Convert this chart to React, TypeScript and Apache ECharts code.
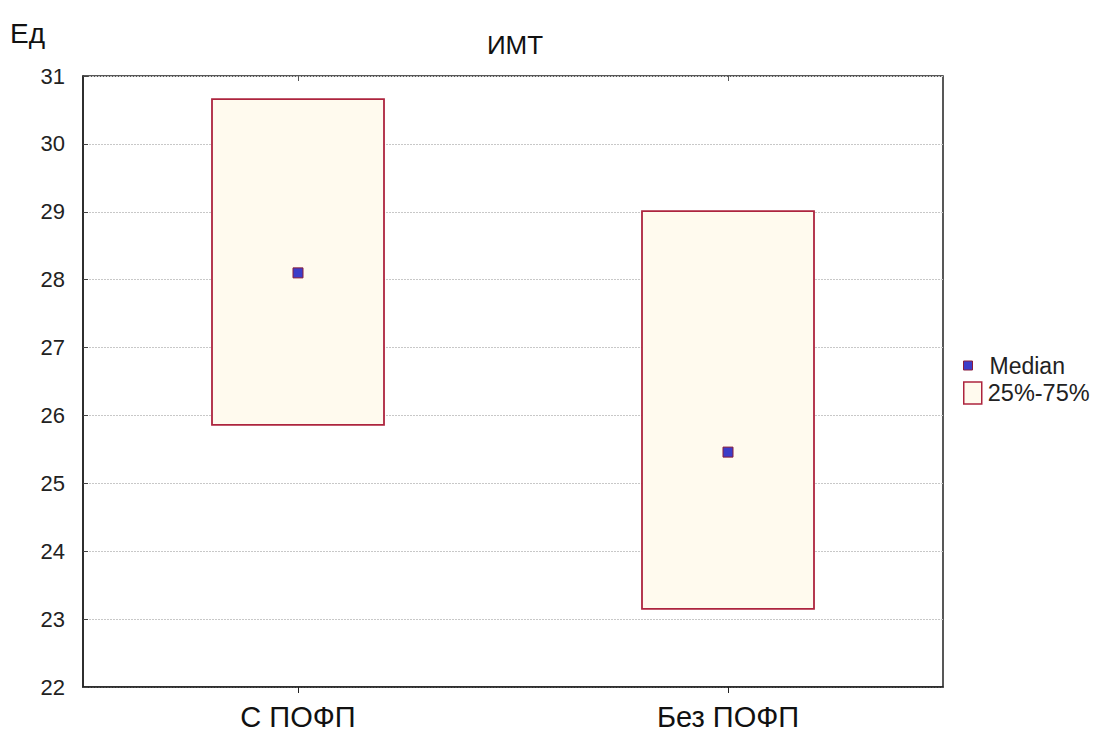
import React, { useEffect, useRef } from "react";
import * as echarts from "echarts";

// Groups and their interquartile summaries (BMI units)
const categories = ["С ПОФП", "Без ПОФП"];
const q1Values = [25.86, 23.15];
const q3Values = [30.66, 29.01];
const medianValues = [28.1, 25.46];
const yTicks = [22, 31, 1]; // min, max, step

const FONT = "'Liberation Sans', Arial, sans-serif";
const BOX_FILL = "#fffaee";
const BOX_EDGE = "#ad243e";
const MED_FILL = "#3c3cc8";
const MED_EDGE = "#8a1c3c";

export default function App() {
  const ref = useRef<HTMLDivElement>(null);

  useEffect(() => {
    if (!ref.current) return;
    const chart = echarts.init(ref.current, undefined, { renderer: "svg" });

    const boxData = categories.map((_, i) => [i, q1Values[i], q3Values[i]]);
    const medData = categories.map((_, i) => [i, medianValues[i]]);

    chart.setOption({
      animation: false,
      backgroundColor: "#ffffff",
      textStyle: { fontFamily: FONT },
      title: [
        {
          text: "ИМТ",
          left: 515,
          top: 32,
          textAlign: "center",
          padding: 0,
          textStyle: { fontFamily: FONT, fontSize: 26, fontWeight: "normal", color: "#111" },
        },
        {
          text: "Ед",
          left: 10,
          top: 19,
          padding: 0,
          textStyle: { fontFamily: FONT, fontSize: 28, fontWeight: "normal", color: "#111" },
        },
      ],
      legend: [
        {
          left: 963,
          top: 354,
          padding: 0,
          orient: "vertical",
          itemWidth: 9,
          itemHeight: 9,
          selectedMode: false,
          textStyle: { fontFamily: FONT, fontSize: 23, color: "#222", padding: [0, 0, 0, 12] },
          data: [
            {
              name: "Median",
              icon: "rect",
              itemStyle: { color: MED_FILL, borderColor: MED_EDGE, borderWidth: 1 },
            },
          ],
        },
        {
          left: 963,
          top: 381,
          padding: 0,
          orient: "vertical",
          itemWidth: 18,
          itemHeight: 22,
          selectedMode: false,
          textStyle: { fontFamily: FONT, fontSize: 23.5, color: "#222", padding: [0, 0, 0, 1] },
          data: [
            {
              name: "25%-75%",
              icon: "rect",
              itemStyle: { color: BOX_FILL, borderColor: BOX_EDGE, borderWidth: 1.5 },
            },
          ],
        },
      ],
      grid: {
        left: 83,
        top: 76,
        width: 860,
        height: 611,
        show: true,
        borderColor: "#222",
        borderWidth: 1.5,
        backgroundColor: "transparent",
      },
      xAxis: [
        {
          type: "category",
          data: categories,
          boundaryGap: true,
          axisLine: { show: true, lineStyle: { color: "#222", width: 1.5 } },
          axisTick: { show: true, alignWithLabel: true, length: 6, inside: false, lineStyle: { color: "#222" } },
          axisLabel: { fontFamily: FONT, fontSize: 29, color: "#111", margin: 15 },
          splitLine: { show: false },
        },
        {
          type: "category",
          data: categories,
          position: "top",
          boundaryGap: true,
          axisLine: { show: false },
          axisTick: { show: true, alignWithLabel: true, length: 5, inside: true, lineStyle: { color: "#555" } },
          axisLabel: { show: false },
          splitLine: { show: false },
        },
      ],
      yAxis: {
        type: "value",
        min: yTicks[0],
        max: yTicks[1],
        interval: yTicks[2],
        axisLine: { show: true, lineStyle: { color: "#222", width: 1.5 } },
        axisTick: { show: true, inside: true, length: 5, lineStyle: { color: "#444" } },
        axisLabel: { fontFamily: FONT, fontSize: 22, color: "#222", margin: 18 },
        splitLine: { show: true, lineStyle: { color: "#c8c8c8", type: [2, 1], width: 1 } },
      },
      series: [
        {
          name: "25%-75%",
          type: "custom",
          xAxisIndex: 0,
          data: boxData,
          encode: { x: 0, y: [1, 2] },
          renderItem: (params: any, api: any) => {
            const idx = api.value(0);
            const low = api.coord([idx, api.value(1)]);
            const high = api.coord([idx, api.value(2)]);
            const w = api.size([1, 0])[0] * 0.4;
            return {
              type: "rect",
              shape: { x: low[0] - w / 2, y: high[1], width: w, height: low[1] - high[1] },
              style: { fill: BOX_FILL, stroke: BOX_EDGE, lineWidth: 1.8 },
            };
          },
          z: 2,
        },
        {
          name: "Median",
          type: "scatter",
          xAxisIndex: 0,
          data: medData,
          symbol: "rect",
          symbolSize: 10,
          itemStyle: { color: MED_FILL, borderColor: MED_EDGE, borderWidth: 1, opacity: 1 },
          z: 3,
        },
      ],
    });

    return () => chart.dispose();
  }, []);

  return (
    <div
      ref={ref}
      style={{ position: "fixed", left: 0, top: 0, width: 1096, height: 734 }}
    />
  );
}
